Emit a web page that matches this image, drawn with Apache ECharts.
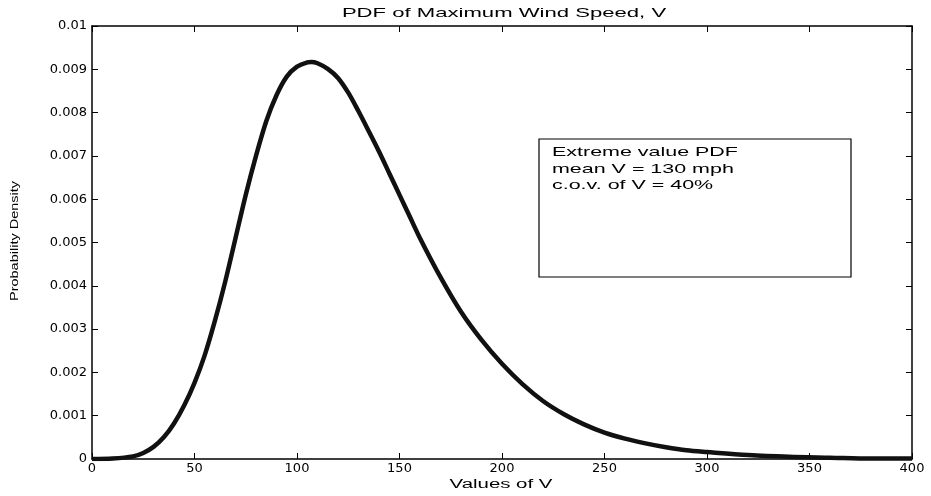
<!DOCTYPE html>
<html lang="en">
<head>
  <meta charset="UTF-8">
  <title>PDF of Maximum Wind Speed</title>
  <style>
    html, body { margin: 0; padding: 0; background: #fff; }
    .chart { width: 931px; height: 496px; }
  </style>
</head>
<body>
  <div class="chart"></div>

  <script src="https://cdn.jsdelivr.net/npm/echarts@6/dist/echarts.min.js"></script>
  <script>
    // values
    var speeds = [0, 10, 20, 25, 30, 35, 40, 45, 50, 55, 60, 65, 70, 75, 80, 85, 90, 95, 100, 105, 107, 110, 115, 120,
      125, 130, 135, 140, 145, 150, 155, 160, 170, 180, 190, 200, 210, 220, 230, 240, 250, 260, 270, 280, 290, 300,
      320, 340, 360, 380, 400];
    var density = [0, 0.00001, 0.00006, 0.00014, 0.00028, 0.0005, 0.00082, 0.00124, 0.00176, 0.0024, 0.0032, 0.0041, 0.0051, 0.0061, 0.0070, 0.0078, 0.0084, 0.00883, 0.00906, 0.00916, 0.00917, 0.00914, 0.00901, 0.0088,
      0.00846, 0.00803, 0.00757, 0.0071, 0.0066, 0.0061, 0.0056, 0.0051, 0.0042, 0.0034, 0.00275, 0.0022, 0.00173, 0.00134, 0.00104, 0.0008, 0.00061, 0.00047, 0.00036, 0.00027, 0.0002, 0.00016,
      0.00009, 0.00005, 0.00003, 0.00001, 0.00001];
    var noteLines = ['Extreme value PDF', 'mean V = 130 mph', 'c.o.v. of V = 40%'];
    var titleText = 'PDF of Maximum Wind Speed, V';
    var xName = 'Values of V';
    var yName = 'Probability Density';

    var font = 'Liberation Sans, Arial, sans-serif';
    var tickFont = 'DejaVu Sans, sans-serif';
    var points = speeds.map(function (v, i) { return [v, density[i]]; });

    var xBase = {
      type: 'value', min: 0, max: 400, interval: 50,
      axisLine: { onZero: false, lineStyle: { color: '#000', width: 1.5 } },
      axisTick: { inside: true, length: 6, lineStyle: { color: '#000' } },
      splitLine: { show: false }
    };
    var yBase = {
      type: 'value', min: 0, max: 0.01, interval: 0.001,
      axisLine: { show: true, onZero: false, lineStyle: { color: '#000', width: 1.5 } },
      axisTick: { show: true, inside: true, length: 6, lineStyle: { color: '#000' } },
      splitLine: { show: false }
    };

    // stretched text, the reference uses a very wide face
    function wideText(str, x, y, size, sx, opts) {
      return Object.assign({
        type: 'text', x: x, y: y, scaleX: sx, silent: true,
        style: { text: str, font: size + 'px ' + font, fill: '#000', align: 'left', verticalAlign: 'middle' }
      }, opts || {});
    }

    var title = wideText(titleText, 504, 13, 13, 1.7);
    title.style.align = 'center';
    var xLabel = wideText(xName, 501, 485, 12, 1.7);
    xLabel.style.align = 'center';
    var yLabel = wideText(yName, 15, 241, 10, 1.45, { rotation: Math.PI / 2 });
    yLabel.style.align = 'center';

    var chart = echarts.init(document.querySelector('.chart'));
    chart.setOption({
      animation: false,
      backgroundColor: '#fff',
      grid: { left: 92, right: 19, top: 26, bottom: 37 },
      xAxis: [
        Object.assign({}, xBase, {
          position: 'bottom',
          axisLabel: { fontFamily: tickFont, fontSize: 13, color: '#000', margin: 3 }
        }),
        Object.assign({}, xBase, { position: 'top', axisLabel: { show: false } })
      ],
      yAxis: [
        Object.assign({}, yBase, {
          position: 'left',
          axisLabel: {
            fontFamily: tickFont, fontSize: 13, color: '#000', margin: 5,
            formatter: function (v) { return String(+v.toFixed(3)); }
          }
        }),
        Object.assign({}, yBase, { position: 'right', axisLabel: { show: false } })
      ],
      graphic: [
        title, xLabel, yLabel,
        { type: 'rect', x: 539, y: 139, shape: { x: 0, y: 0, width: 312, height: 138 },
          style: { fill: '#fff', stroke: '#000', lineWidth: 1.2 } },
        wideText(noteLines[0], 552, 152, 13, 1.65),
        wideText(noteLines[1], 552, 169, 13, 1.65),
        wideText(noteLines[2], 552, 185, 13, 1.65)
      ],
      series: [{
        type: 'line',
        data: points,
        smooth: 0.3,
        showSymbol: false,
        lineStyle: { color: '#111', width: 4.5 }
      }]
    });
  </script>
</body>
</html>
